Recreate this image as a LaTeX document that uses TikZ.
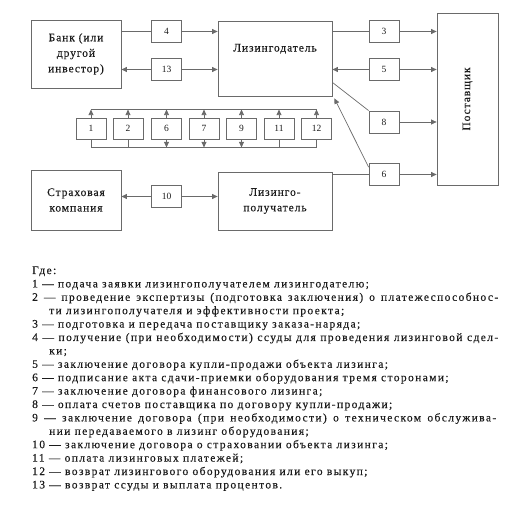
\documentclass[tikz,border=0pt]{standalone}
\usepackage{fontspec}
\setmainfont{Liberation Serif}
\newfontfamily\lf{Liberation Serif}[LetterSpace=12, FakeBold=0.3]
\newfontfamily\boxfnt{Liberation Serif}[LetterSpace=8, FakeBold=0.3]
\newfontfamily\nf{Liberation Serif}
\usetikzlibrary{arrows.meta,calc}
\definecolor{ln}{HTML}{6A6A6A}
\definecolor{tx}{HTML}{1C1C1C}
\begin{document}
\begin{tikzpicture}[x=1pt,y=-1pt,
  box/.style={draw=ln, line width=0.8pt, inner sep=0pt, align=center, text=tx,
    font=\boxfnt\fontsize{11.5}{15.5}\selectfont},
  num/.style={draw=ln, line width=0.8pt, inner sep=0pt, minimum width=30pt, minimum height=22pt,
    text=tx, font=\nf\fontsize{9.5}{10}\selectfont},
  sm/.style={num, minimum width=30pt, minimum height=21pt},
  conn/.style={draw=ln, line width=0.7pt},
  arr/.style={conn, -{Triangle[length=5.5pt,width=5pt]}},
  leg/.style={anchor=base west, inner sep=0pt, text=tx, font=\lf\fontsize{11.5}{12}\selectfont}]
\useasboundingbox (0,0) rectangle (519,510);
% main boxes
\node[box, minimum width=90pt, minimum height=68pt] (bank) at (76,54) {Банк (или\\другой\\инвестор)};
\node[box, minimum width=114pt, minimum height=75pt] (lgd) at (275,58.5) {Лизингодатель\\[6pt]};
\node[box, minimum width=61pt, minimum height=172pt] (post) at (467.5,99) {};
\node[rotate=90, text=tx, font=\boxfnt\fontsize{11.5}{12}\selectfont] (postl) at (post.center) {Поставщик};
\node[box, minimum width=90pt, minimum height=60pt] (strah) at (76,200) {Страховая\\компания};
\node[box, minimum width=114pt, minimum height=58pt] (lpol) at (275,201) {Лизинго-\\получатель};
% numbered boxes
\node[num] (b4) at (166.5,31.5) {4};
\node[num] (b13) at (166.5,69.5) {13};
\node[num] (b3) at (384,31.5) {3};
\node[num] (b5) at (384,69.5) {5};
\node[num] (b8) at (384,122) {8};
\node[num] (b6r) at (384,174.5) {6};
\node[num] (b10) at (166.5,196.5) {10};
% small row
\node[sm] (s1) at (91,128.5) {1};
\node[sm] (s2) at (128,128.5) {2};
\node[sm] (s6) at (166.5,128.5) {6};
\node[sm] (s7) at (204,128.5) {7};
\node[sm] (s9) at (241.5,128.5) {9};
\node[sm] (s11) at (279,128.5) {11};
\node[sm] (s12) at (316.5,128.5) {12};
% connectors
\draw[conn] (b4 -| bank.east) -- (b4);
\draw[arr] (b4) -- (b4 -| lgd.west);
\draw[arr] (b13) -- (b13 -| bank.east);
\draw[arr] (b13) -- (b13 -| lgd.west);
\draw[conn] (b3 -| lgd.east) -- (b3);
\draw[arr] (b3) -- (b3 -| post.west);
\draw[arr] (b5) -- (b5 -| lgd.east);
\draw[arr] (b5) -- (b5 -| post.west);
\coordinate (c8) at ($(lgd.south east)+(0,-14)$);
\draw[conn] (c8) -- (b8.north west);
\draw[arr] (b8) -- (b8 -| post.west);
\draw[conn] (b6r -| lpol.east) -- (b6r);
\draw[arr] (b6r) -- (b6r -| post.west);
\coordinate (c6) at ($(lgd.south east)+(2,2)$);
\draw[arr] ($(b6r.north west)+(0,4)$) -- (c6);
\draw[arr] (b10) -- (b10 -| strah.east);
\draw[arr] (b10) -- (b10 -| lpol.west);
% small row lines
\coordinate (tl) at ($(s1.north)+(0,-8)$);
\coordinate (tr) at ($(s12.north)+(0,-8)$);
\coordinate (bl) at ($(s1.south)+(0,8)$);
\coordinate (br) at ($(s12.south)+(0,8)$);
\draw[conn] (tl) -- (tr);
\draw[conn] (bl) -- (br);
\foreach \s in {s1,s2,s6,s7,s9,s11,s12} {\draw[arr] (\s.north) -- ++(0,-8);}
\foreach \s in {s6,s7,s9} {\draw[arr] (\s.south) -- ++(0,8);}
\foreach \s in {s1,s2,s11,s12} {\draw[conn] (\s.south) -- ++(0,8);}
% legend
\node[leg] (l0) at (32,274) {Где:};
\node[leg] (l1) at (32,287.4) {1 — подача заявки лизингополучателем лизингодателю;};
\node[leg] (l2) at (32,300.8) {\makebox[466pt][s]{2 — проведение экспертизы (подготовка заключения) о платежеспособнос-}};
\node[leg] (l3) at (49,314.2) {ти лизингополучателя и эффективности проекта;};
\node[leg] (l4) at (32,327.6) {3 — подготовка и передача поставщику заказа-наряда;};
\node[leg] (l5) at (32,341) {\makebox[466pt][s]{4 — получение (при необходимости) ссуды для проведения лизинговой сдел-}};
\node[leg] (l6) at (49,354.4) {ки;};
\node[leg] (l7) at (32,367.8) {5 — заключение договора купли-продажи объекта лизинга;};
\node[leg] (l8) at (32,381.2) {6 — подписание акта сдачи-приемки оборудования тремя сторонами;};
\node[leg] (l9) at (32,394.6) {7 — заключение договора финансового лизинга;};
\node[leg] (l10) at (32,408) {8 — оплата счетов поставщика по договору купли-продажи;};
\node[leg] (l11) at (32,421.4) {\makebox[464pt][s]{9 — заключение договора (при необходимости) о техническом обслужива-}};
\node[leg] (l12) at (49,434.8) {нии передаваемого в лизинг оборудования;};
\node[leg] (l13) at (32,448.2) {10 — заключение договора о страховании объекта лизинга;};
\node[leg] (l14) at (32,461.6) {11 — оплата лизинговых платежей;};
\node[leg] (l15) at (32,475) {12 — возврат лизингового оборудования или его выкуп;};
\node[leg] (l16) at (32,488.4) {13 — возврат ссуды и выплата процентов.};
\end{tikzpicture}
\end{document}
